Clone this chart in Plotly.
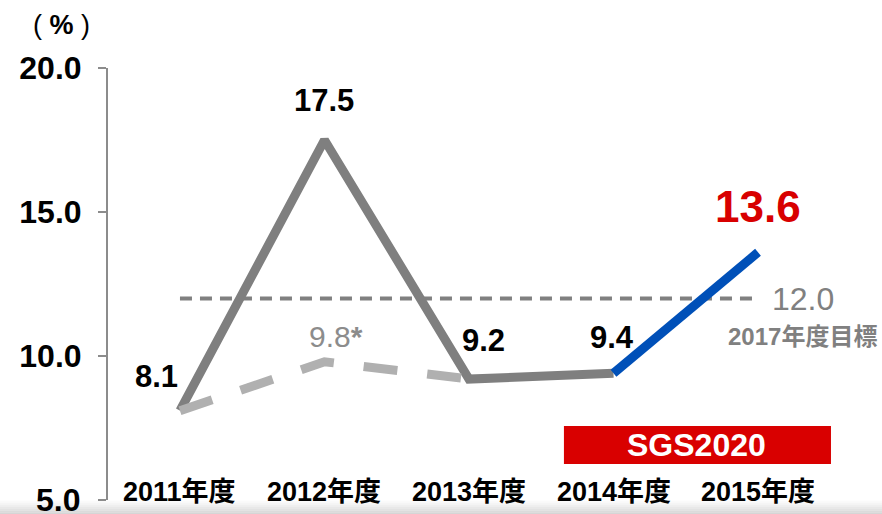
import plotly.graph_objects as go

years = ["2011年度", "2012年度", "2013年度", "2014年度", "2015年度"]
roe_actual = [8.1, 17.5, 9.2, 9.4]          # gray solid, 2011-2014
roe_sgs = [9.4, 13.6]                       # blue, 2014-2015
roe_adjusted = [8.1, 9.8, 9.2]              # light gray dashed, 2011-2013
target = 12.0
y_ticks = [5.0, 10.0, 15.0, 20.0]

x_all = list(range(len(years)))
FONT = "Liberation Sans, Noto Sans CJK JP, sans-serif"

fig = go.Figure()

# target line
fig.add_trace(go.Scatter(x=[x_all[0], x_all[-1]], y=[target, target], mode="lines",
                         line=dict(color="#808080", width=4, dash="12px,8px"),
                         hoverinfo="skip", showlegend=False))
# actual
fig.add_trace(go.Scatter(x=x_all[:4], y=roe_actual, mode="lines",
                         line=dict(color="#7f7f7f", width=9), showlegend=False))
# SGS2020 period
fig.add_trace(go.Scatter(x=x_all[3:5], y=roe_sgs, mode="lines",
                         line=dict(color="#0050b8", width=9), showlegend=False))
# adjusted dashed
fig.add_trace(go.Scatter(x=x_all[:3], y=roe_adjusted, mode="lines",
                         line=dict(color="#b0b0b0", width=9, dash="34px,30px"),
                         showlegend=False))

ann = []
# data labels
offs = [(-23, 34), (0, 40), (15, 39), (-2, 36)]
for i, v in enumerate(roe_actual):
    dx, dy = offs[i]
    ann.append(dict(x=x_all[i], y=v, text=f"<b>{v:.1f}</b>", showarrow=False,
                    xshift=dx, yshift=dy, font=dict(family=FONT, size=31, color="#000000")))
ann.append(dict(x=x_all[4], y=roe_sgs[1], text=f"<b>{roe_sgs[1]:.1f}</b>", showarrow=False,
                xshift=0, yshift=46, font=dict(family=FONT, size=44, color="#d80000")))
ann.append(dict(x=x_all[1], y=roe_adjusted[1], text=f"{roe_adjusted[1]:.1f}<b>*</b>", showarrow=False,
                xshift=12, yshift=25, font=dict(family=FONT, size=30, color="#8c8c8c")))
ann.append(dict(x=x_all[4], y=target, text=f"{target:.1f}", showarrow=False,
                xanchor="left", xshift=12, yshift=-1, font=dict(family=FONT, size=32, color="#808080")))
ann.append(dict(x=x_all[4], y=target, text="<b>2017年度目標</b>", showarrow=False,
                xanchor="left", xshift=-32, yshift=-38, font=dict(family=FONT, size=24, color="#808080")))
# category labels
for i, yr in enumerate(years):
    ann.append(dict(x=x_all[i], y=5.0, yref="y", text=f"<b>{yr}</b>", showarrow=False,
                    yanchor="middle", yshift=8, font=dict(family=FONT, size=27, color="#000000")))
# bottom tick label (cut off by the page edge, as in the original)
ann.append(dict(x=-0.0341, y=y_ticks[0], xref="paper", yref="y", text=f"<b>{y_ticks[0]:.1f}</b>",
                showarrow=False, xanchor="right", yanchor="middle",
                font=dict(family=FONT, size=32, color="#000000")))
# ROE title and unit
ann.append(dict(x=0.408, y=20.35, xref="x", yref="y", text="<b>ROE</b>", showarrow=False,
                xanchor="center", yanchor="middle",
                font=dict(family=FONT, size=46, color="#000000")))
ann.append(dict(x=-0.0604, y=1.0995, xref="paper", yref="paper", text="( <b>%</b> )", showarrow=False,
                xanchor="center", yanchor="middle", font=dict(family=FONT, size=27, color="#000000")))
# SGS2020 label
ann.append(dict(x=3.571, y=6.91, text="<b>SGS2020</b>", showarrow=False,
                font=dict(family=FONT, size=32, color="#ffffff")))

shapes = [
    dict(type="rect", xref="x", yref="y", x0=2.657, x1=4.505, y0=6.25, y1=7.57,
         fillcolor="#d90000", line=dict(width=0), layer="below"),
]
# bottom shadow band (translucent)
alphas = [0.08, 0.15, 0.25, 0.35, 0.45, 0.55, 0.65]
step = 2 / 432
for k, a in enumerate(alphas):
    y1 = -0.002 - k * step
    shapes.append(dict(type="rect", xref="paper", yref="paper", x0=-0.2, x1=1.1,
                       y0=y1 - step, y1=y1, fillcolor=f"rgba(190,190,190,{a})",
                       line=dict(width=0), layer="above"))

fig.update_layout(
    width=882, height=514,
    margin=dict(l=108, r=12, t=68, b=14),
    paper_bgcolor="white", plot_bgcolor="white",
    xaxis=dict(range=[-0.498, 4.775], visible=False),
    yaxis=dict(range=[5, 20], tickvals=y_ticks,
               ticktext=[""] + [f"<b>{v:.1f}</b>" for v in y_ticks[1:]],
               showgrid=False, zeroline=False, showline=True, linecolor="#8c8c8c", linewidth=2,
               ticks="outside", ticklen=8, tickcolor="#8c8c8c", tickwidth=2,
               tickfont=dict(family=FONT, size=32, color="#000000"), ticklabelstandoff=10),
    annotations=ann, shapes=shapes, showlegend=False,
)

post = (
    "document.documentElement.style.overflow='hidden';"
    "document.body.style.margin='0';document.body.style.overflow='hidden';"
)
fig.write_html("out.html", config={"displayModeBar": False}, post_script=post)
